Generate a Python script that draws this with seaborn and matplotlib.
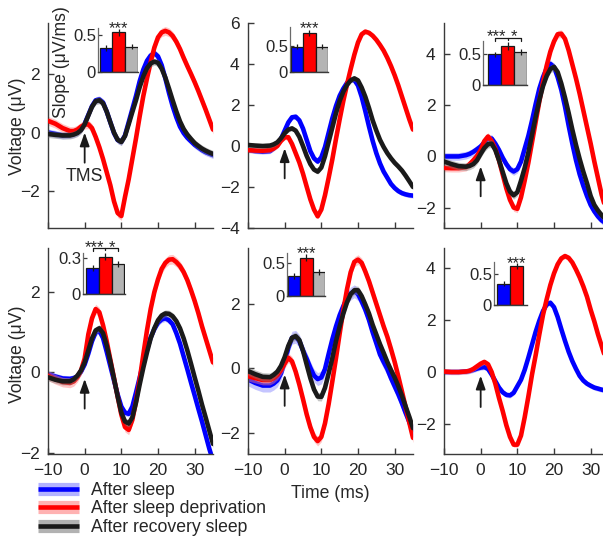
import numpy as np
import pandas as pd
import matplotlib
matplotlib.use("Agg")
import matplotlib.pyplot as plt
import seaborn as sns
from matplotlib.lines import Line2D
from matplotlib.patches import ArrowStyle
from matplotlib.legend_handler import HandlerTuple

# ---------------- data ----------------
TIME = [-10, -8, -6, -4, -3, -2, -1, 0, 1, 2, 3, 4, 5, 6, 7, 8, 9, 10, 11, 12,
        13, 14, 15, 16, 17, 18, 19, 20, 21, 22, 23, 24, 25, 26, 27, 28, 29, 30,
        31, 32, 33, 34, 35]

CONDITIONS = ["After sleep", "After sleep deprivation", "After recovery sleep"]

# panel 1 (top left)
P1_SLEEP = [0.0, -0.05, -0.1, -0.08, -0.05, 0.0, 0.1, 0.3, 0.6, 0.9, 1.1, 1.13, 1.03, 0.72, 0.35, -0.02,
            -0.26, -0.32, -0.1, 0.35, 0.8, 1.25, 1.75, 2.15, 2.45, 2.63, 2.71, 2.6, 2.3, 1.85, 1.35, 0.9,
            0.52, 0.2, -0.02, -0.18, -0.3, -0.42, -0.51, -0.6, -0.67, -0.72, -0.77]
P1_DEPRIV = [0.4, 0.3, 0.15, 0.05, 0.05, 0.1, 0.2, 0.27, 0.28, 0.15, -0.15, -0.5, -0.9, -1.35, -1.8, -2.35,
             -2.75, -2.85, -2.2, -1.6, -0.9, -0.2, 0.55, 1.25, 1.85, 2.4, 2.9, 3.25, 3.42, 3.47, 3.42, 3.3,
             3.1, 2.85, 2.55, 2.27, 2.0, 1.72, 1.42, 1.1, 0.78, 0.44, 0.1]
P1_RECOV = [-0.05, -0.08, -0.1, -0.1, -0.07, -0.02, 0.08, 0.28, 0.58, 0.88, 1.07, 1.1, 1.0, 0.72, 0.35, 0.0,
            -0.25, -0.32, -0.12, 0.28, 0.7, 1.1, 1.55, 1.92, 2.2, 2.36, 2.42, 2.38, 2.18, 1.88, 1.5, 1.1,
            0.72, 0.38, 0.12, -0.07, -0.22, -0.36, -0.46, -0.55, -0.62, -0.68, -0.73]

# panel 2 (top middle)
P2_SLEEP = [-0.2, -0.25, -0.28, -0.25, -0.12, 0.05, 0.35, 0.75, 1.15, 1.4, 1.43, 1.25, 0.85, 0.3, -0.25, -0.6,
            -0.76, -0.55, -0.05, 0.65, 1.35, 1.95, 2.45, 2.8, 3.08, 3.22, 3.22, 2.95, 2.4, 1.7, 0.95, 0.25,
            -0.35, -0.85, -1.25, -1.55, -1.85, -2.05, -2.2, -2.3, -2.36, -2.4, -2.42]
P2_DEPRIV = [-0.2, -0.22, -0.23, -0.2, -0.12, 0.0, 0.25, 0.42, 0.43, 0.1, -0.35, -0.8, -1.35, -1.98, -2.6, -3.1,
             -3.43, -3.1, -2.4, -1.55, -0.65, 0.35, 1.3, 2.2, 3.0, 3.75, 4.45, 5.05, 5.45, 5.58, 5.52, 5.38,
             5.18, 4.93, 4.65, 4.3, 3.9, 3.45, 2.95, 2.4, 1.85, 1.3, 0.8]
P2_RECOV = [0.05, 0.02, 0.0, 0.02, 0.08, 0.18, 0.38, 0.62, 0.8, 0.86, 0.75, 0.45, 0.0, -0.48, -0.88, -1.15,
            -1.25, -1.05, -0.5, 0.2, 0.9, 1.6, 2.2, 2.65, 2.98, 3.2, 3.3, 3.2, 2.85, 2.4, 1.85, 1.25,
            0.75, 0.3, -0.05, -0.35, -0.6, -0.82, -1.0, -1.2, -1.45, -1.72, -2.0]

# panel 3 (top right)
P3_SLEEP = [0.0, 0.0, 0.0, 0.05, 0.1, 0.18, 0.28, 0.39, 0.55, 0.7, 0.7, 0.5, 0.25, -0.05, -0.3, -0.5,
            -0.59, -0.5, -0.2, 0.3, 0.8, 1.4, 2.05, 2.65, 3.1, 3.45, 3.62, 3.5, 3.1, 2.6, 1.95, 1.2,
            0.5, -0.15, -0.7, -1.15, -1.55, -1.9, -2.15, -2.35, -2.5, -2.6, -2.68]
P3_DEPRIV = [-0.45, -0.46, -0.46, -0.42, -0.3, -0.15, 0.02, 0.25, 0.6, 0.78, 0.6, 0.3, -0.15, -0.7, -1.25, -1.7,
             -2.0, -2.05, -1.6, -0.95, -0.25, 0.55, 1.35, 2.15, 2.9, 3.55, 4.1, 4.5, 4.78, 4.8, 4.6, 4.15,
             3.6, 3.05, 2.45, 1.8, 1.15, 0.5, -0.2, -0.85, -1.5, -2.0, -2.4]
P3_RECOV = [-0.2, -0.3, -0.38, -0.4, -0.37, -0.3, -0.15, 0.1, 0.33, 0.48, 0.5, 0.25, -0.15, -0.6, -1.05, -1.38,
            -1.52, -1.4, -0.95, -0.45, 0.15, 0.85, 1.55, 2.2, 2.75, 3.15, 3.42, 3.5, 3.3, 2.85, 2.3, 1.7,
            1.05, 0.45, -0.1, -0.6, -1.05, -1.55, -1.9, -2.12, -2.3, -2.45, -2.55]

# panel 4 (bottom left)
P4_SLEEP = [-0.04, -0.1, -0.15, -0.16, -0.14, -0.1, 0.02, 0.2, 0.47, 0.78, 1.0, 1.04, 0.86, 0.52, 0.16, -0.2,
            -0.55, -0.85, -1.0, -1.03, -0.85, -0.5, -0.13, 0.25, 0.57, 0.87, 1.08, 1.24, 1.32, 1.35, 1.3, 1.2,
            0.98, 0.72, 0.4, 0.08, -0.25, -0.57, -0.9, -1.22, -1.56, -1.9, -2.2]
P4_DEPRIV = [-0.08, -0.17, -0.24, -0.26, -0.22, -0.12, 0.05, 0.35, 0.95, 1.35, 1.58, 1.5, 1.18, 0.78, 0.32, -0.14,
             -0.6, -1.05, -1.36, -1.43, -1.18, -0.72, -0.18, 0.45, 1.05, 1.58, 2.0, 2.32, 2.58, 2.73, 2.81, 2.82,
             2.75, 2.65, 2.5, 2.3, 2.05, 1.78, 1.48, 1.15, 0.85, 0.55, 0.25]
P4_RECOV = [-0.12, -0.18, -0.22, -0.22, -0.17, -0.08, 0.05, 0.25, 0.55, 0.85, 1.05, 1.1, 0.98, 0.68, 0.28, -0.15,
            -0.6, -1.0, -1.22, -1.27, -1.12, -0.75, -0.3, 0.12, 0.5, 0.85, 1.1, 1.3, 1.42, 1.47, 1.46, 1.4,
            1.28, 1.1, 0.85, 0.55, 0.22, -0.12, -0.45, -0.8, -1.12, -1.45, -1.78]

# panel 5 (bottom middle)
P5_SLEEP = [-0.34, -0.45, -0.53, -0.53, -0.47, -0.37, -0.15, 0.2, 0.64, 0.95, 0.98, 0.85, 0.55, 0.3, 0.02, -0.22,
            -0.33, -0.28, -0.02, 0.45, 0.9, 1.3, 1.65, 1.93, 2.18, 2.32, 2.39, 2.3, 2.08, 1.82, 1.5, 1.12,
            0.78, 0.43, 0.2, -0.02, -0.3, -0.55, -0.8, -1.08, -1.38, -1.66, -1.95]
P5_DEPRIV = [-0.24, -0.3, -0.36, -0.36, -0.3, -0.2, -0.05, 0.15, 0.33, 0.22, -0.1, -0.5, -0.95, -1.42, -1.82, -2.12,
             -2.25, -2.12, -1.7, -1.1, -0.4, 0.32, 1.08, 1.8, 2.45, 2.98, 3.3, 3.37, 3.27, 3.0, 2.7, 2.35,
             2.0, 1.65, 1.3, 0.98, 0.6, 0.2, -0.25, -0.72, -1.2, -1.68, -2.15]
P5_RECOV = [-0.08, -0.18, -0.26, -0.27, -0.2, -0.1, 0.08, 0.35, 0.7, 0.95, 1.0, 0.88, 0.55, 0.12, -0.3, -0.65,
            -0.87, -0.88, -0.6, -0.15, 0.32, 0.85, 1.3, 1.7, 2.05, 2.3, 2.42, 2.42, 2.24, 1.98, 1.7, 1.35,
            1.05, 0.75, 0.48, 0.2, -0.05, -0.28, -0.55, -0.85, -1.18, -1.5, -1.85]

# panel 6 (bottom right, no recovery condition)
P6_SLEEP = [0.0, 0.0, 0.0, 0.02, 0.04, 0.08, 0.13, 0.17, 0.19, 0.12, -0.1, -0.35, -0.6, -0.78, -0.88, -0.9,
            -0.8, -0.55, -0.3, 0.08, 0.55, 1.05, 1.55, 1.98, 2.35, 2.6, 2.67, 2.5, 2.12, 1.65, 1.2, 0.78,
            0.42, 0.12, -0.15, -0.33, -0.45, -0.53, -0.6, -0.64, -0.68, -0.71, -0.73]
P6_DEPRIV = [0.02, 0.0, 0.0, 0.02, 0.05, 0.12, 0.22, 0.32, 0.39, 0.3, 0.0, -0.45, -1.0, -1.5, -2.05, -2.5,
             -2.8, -2.8, -2.45, -1.75, -0.95, -0.1, 0.65, 1.45, 2.2, 2.8, 3.35, 3.8, 4.15, 4.38, 4.47, 4.4,
             4.22, 3.95, 3.65, 3.3, 2.9, 2.4, 1.95, 1.45, 1.0, 0.55, 0.1]

# standard errors (band half widths) per panel: sleep, deprivation, recovery
SEM = [[0.12, 0.15, 0.12], [0.12, 0.12, 0.12], [0.15, 0.15, 0.15],
       [0.08, 0.12, 0.09], [0.2, 0.15, 0.13], [0.1, 0.1, None]]

# inset slopes (uV/ms)
SLOPE_MEAN = [[0.32, 0.53, 0.34], [0.49, 0.75, 0.49], [0.50, 0.64, 0.535],
              [0.217, 0.31, 0.25], [0.30, 0.58, 0.36], [0.35, 0.63]]
SLOPE_ERR = [[0.04, 0.05, 0.03], [0.05, 0.06, 0.05], [0.04, 0.06, 0.05],
             [0.025, 0.03, 0.025], [0.05, 0.05, 0.05], [0.04, 0.05]]
SLOPE_TICKS = [[0, 0.5], [0, 0.5], [0, 0.5], [0, 0.3], [0, 0.5], [0, 0.5]]
SLOPE_TICKLABELS = [["0", "0.5"], ["0", "0.5"], ["0", "0.5"], ["0", "0.3"], ["0", "0.5"], ["0", "0.5"]]

YTICKS = [[-2, 0, 2], [-4, -2, 0, 2, 4, 6], [-2, 0, 2, 4], [-2, 0, 2], [-2, 0, 2], [-2, 0, 2, 4]]
XTICKS = [-10, 0, 10, 20, 30]

# ---------------- style ----------------
sns.set_theme(style="white")
plt.rcParams["font.family"] = ["Liberation Sans", "DejaVu Sans"]
plt.rcParams["axes.unicode_minus"] = True

W, H = 603, 544
FS_TICK = 12.5
FS_LABEL = 12.7
FS_INSET = 12
TXT = "#262626"
SPINE = "#3a3a3a"
LINE_COLORS = ["#0000ff", "#ff0000", "#1a1a1a"]
BAND_COLORS = ["#8080ff", "#ff8080", "#808080"]
BAR_COLORS = ["#0000ff", "#ff0000", "#b4b4b4"]

fig = plt.figure(figsize=(W / 100, H / 100), dpi=100)


def rect(left, top, right, bottom):
    return [left / W, 1 - bottom / H, (right - left) / W, (bottom - top) / H]


MAIN_RECTS = [rect(48, 23, 213, 228), rect(248, 23, 413, 228), rect(444, 23, 609, 228),
              rect(48, 248, 213, 454), rect(248, 248, 413, 454), rect(444, 248, 609, 454)]
YLIMS = [(-3.26, 3.74), (-4, 6), (-2.8, 5.22), (-2.03, 3.1), (-2.65, 3.73), (-3.16, 4.78)]
INSET_PX = [(98, 28, 138, 72), (290, 27, 328, 72), (483, 41, 527, 85),
            (83, 253, 125, 294), (287, 253, 325, 296), (494, 262, 527, 305)]
INSET_YTOP = [0.59, 0.865, 0.72, 0.342, 0.65, 0.70]
INSET_XLIM = [(-0.62, 2.5), (-0.58, 2.5), (-0.9, 2.5), (-0.75, 2.55), (-0.58, 2.5), (-0.73, 1.8)]
ARROWS = [(0.0, -1.03), (-0.11, -1.58), (-0.39, -1.56), (-0.16, -0.9), (-0.19, -1.16), (-0.14, -1.35)]
# star annotations: (x in bar units, text, px above inset top)
STARS = [[(1, "***", 5)], [(1, "***", 3.7)], [(0.15, "***", 9.5), (1.5, "*", 9.5)],
         [(0.15, "***", 11), (1.55, "*", 11)], [(1, "***", 4.7)], [(1, "***", 3.7)]]
BRACKET = [None, None, 3, 5, None, None]

PANELS = [(P1_SLEEP, P1_DEPRIV, P1_RECOV), (P2_SLEEP, P2_DEPRIV, P2_RECOV),
          (P3_SLEEP, P3_DEPRIV, P3_RECOV), (P4_SLEEP, P4_DEPRIV, P4_RECOV),
          (P5_SLEEP, P5_DEPRIV, P5_RECOV), (P6_SLEEP, P6_DEPRIV, None)]

arrow_style = ArrowStyle("-|>", head_length=0.45, head_width=0.16)

for i, curves in enumerate(PANELS):
    ax = fig.add_axes(MAIN_RECTS[i])
    for k in (0, 1, 2):
        vals = curves[k]
        if vals is None:
            continue
        y = np.asarray(vals, dtype=float)
        s = SEM[i][k]
        ax.fill_between(TIME, y - s, y + s, color=BAND_COLORS[k], alpha=0.45, lw=0, zorder=1 + k)
        sns.lineplot(x=TIME, y=y, ax=ax, color=LINE_COLORS[k], linewidth=3.3,
                     estimator=None, sort=False, zorder=2 + k)
    ax.set_xlim(-10, 35)
    ax.set_ylim(*YLIMS[i])
    ax.set_yticks(YTICKS[i])
    ax.set_xticks(XTICKS)
    ax.set_xlabel("")
    ax.set_ylabel("")
    for sp in ("top", "right"):
        ax.spines[sp].set_visible(False)
    for sp in ("left", "bottom"):
        ax.spines[sp].set_color(SPINE)
        ax.spines[sp].set_linewidth(1.0)
    ax.tick_params(direction="in", length=4, width=1, color=SPINE, labelsize=FS_TICK,
                   labelcolor=TXT, left=True, bottom=True)
    ax.tick_params(axis="y", pad=6)
    ax.tick_params(axis="x", pad=6.5)
    if i < 3:
        ax.tick_params(labelbottom=False)
    tip, tail = ARROWS[i]
    ax.annotate("", xy=(0, tip), xytext=(0, tail),
                arrowprops=dict(arrowstyle=arrow_style, color="#1a1a1a", lw=1.3,
                                mutation_scale=18, shrinkA=0, shrinkB=0), zorder=6)
    if i == 0:
        ax.text(0, -1.5, "TMS", ha="center", va="center", fontsize=FS_LABEL, color=TXT)

    # inset bar chart
    l, t, r, b = INSET_PX[i]
    iax = fig.add_axes(rect(l, t, r, b))
    n = len(SLOPE_MEAN[i])
    df = pd.DataFrame({"cond": CONDITIONS[:n], "slope": SLOPE_MEAN[i]})
    sns.barplot(data=df, x="cond", y="slope", hue="cond", palette=BAR_COLORS[:n],
                width=1.0, saturation=1, edgecolor="#1a1a1a", linewidth=0.9, errorbar=None,
                legend=False, ax=iax)
    m = np.asarray(SLOPE_MEAN[i])
    e = np.asarray(SLOPE_ERR[i])
    iax.vlines(range(n), m - e, m + e, color="#1a1a1a", lw=0.9, zorder=5)
    iax.set_xlim(*INSET_XLIM[i])
    iax.set_ylim(0, INSET_YTOP[i])
    iax.set_yticks(SLOPE_TICKS[i])
    iax.set_yticklabels(SLOPE_TICKLABELS[i])
    iax.set_xticks([])
    iax.set_xlabel("")
    iax.set_ylabel("")
    iax.patch.set_alpha(0)
    for sp in ("top", "right"):
        iax.spines[sp].set_visible(False)
    iax.spines["left"].set_color("#6a6a6a")
    iax.spines["left"].set_linewidth(0.9)
    iax.spines["bottom"].set_color(SPINE)
    iax.spines["bottom"].set_linewidth(1.0)
    iax.tick_params(axis="y", direction="in", length=3, width=0.9, color=SPINE,
                    labelsize=FS_INSET, labelcolor=TXT, pad=1.5, left=True)
    hpx = b - t
    for (xs, txt, dpx) in STARS[i]:
        iax.annotate(txt, xy=(xs, 1.0), xycoords=("data", "axes fraction"),
                     xytext=(0, (dpx - 0.6 * FS_INSET / 0.72) * 0.72), textcoords="offset points",
                     ha="center", va="baseline", fontsize=FS_INSET, color=TXT, annotation_clip=False)
    if BRACKET[i] is not None:
        yb = 1 + BRACKET[i] / hpx
        y0 = 1 + (BRACKET[i] - 3) / hpx
        tr = iax.get_xaxis_transform()
        iax.plot([0, 0, 2, 2], [y0, yb, yb, y0], transform=tr, color="#1a1a1a", lw=0.9,
                 clip_on=False)
        iax.plot([1, 1], [yb, y0 + 1 / hpx], transform=tr, color="#1a1a1a", lw=0.9, clip_on=False)

# shared labels
fig.text(18 / W, 1 - 126 / H, "Voltage (μV)", rotation=90, ha="center", va="center",
         fontsize=FS_LABEL, color=TXT)
fig.text(18 / W, 1 - 354 / H, "Voltage (μV)", rotation=90, ha="center", va="center",
         fontsize=FS_LABEL, color=TXT)
fig.text(62 / W, 1 - 62 / H, "Slope (μV/ms)", rotation=90, ha="center", va="center",
         fontsize=FS_LABEL, color=TXT)
fig.text(330 / W, 1 - 493 / H, "Time (ms)", ha="center", va="center", fontsize=FS_LABEL, color=TXT)

handles = []
for k in range(3):
    handles.append((Line2D([], [], color=BAND_COLORS[k], alpha=0.6, lw=9.5, solid_capstyle="butt"),
                    Line2D([], [], color=LINE_COLORS[k], lw=3.3, solid_capstyle="butt")))
fig.legend(handles, CONDITIONS, loc="upper left", bbox_to_anchor=(38 / W, 1 - 482 / H),
           frameon=False, fontsize=FS_LABEL, handlelength=2.3, handletextpad=0.7,
           labelspacing=0.08, borderpad=0, borderaxespad=0,
           handler_map={tuple: HandlerTuple(ndivide=1)}, labelcolor=TXT)

fig.savefig("out.png", dpi=100, facecolor="white")
